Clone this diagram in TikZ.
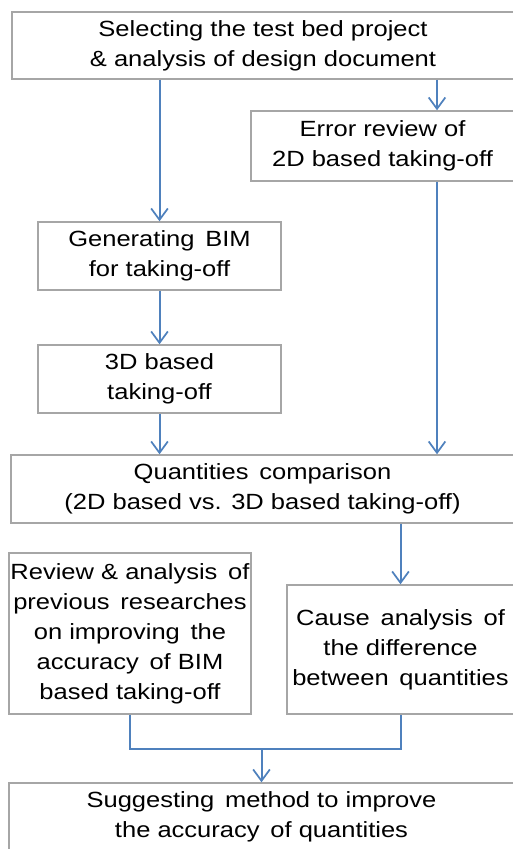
\documentclass[tikz,border=0pt]{standalone}
\usepackage{fontspec}
\setmainfont[FakeStretch=1.16]{Liberation Sans}
\usepackage{xcolor}
\usetikzlibrary{arrows.meta}
\definecolor{flowblue}{RGB}{79,129,189}
\definecolor{boxgray}{RGB}{166,166,166}

\begin{document}
\begin{tikzpicture}[x=0.75pt, y=-0.75pt,
    every node/.append style={font=\fontsize{16.5}{22.5}\selectfont, align=center, inner sep=0pt},
    stagebox/.style={draw=boxgray, line width=1.1pt, fill=white},
    flow/.style={draw=flowblue, line width=1.5pt},
    flowarr/.style={flow, -{Straight Barb[length=8.5pt, width=12.5pt, line width=1.3pt]}}]
        \useasboundingbox (0,0) rectangle (513,849);
        \node [stagebox, minimum width=376.5pt, minimum height=50.25pt] (select) at (263,45.5) {Selecting the test bed project\\\& analysis of design document};
        \node [stagebox, minimum width=197.25pt, minimum height=52.5pt] (error) at (382.5,146) {Error review of\\2D based taking-off};
        \node [stagebox, minimum width=182.25pt, minimum height=51pt] (genbim) at (159.5,256) {Generating\, BIM\\for taking-off};
        \node [stagebox, minimum width=182.25pt, minimum height=51pt] (takeoff) at (159.5,379) {3D based\\taking-off};
        \node [stagebox, minimum width=377.25pt, minimum height=51pt] (compare) at (262.5,489) {Quantities\, comparison\\(2D based vs. 3D based taking-off)};
        \node [stagebox, minimum width=181.5pt, minimum height=120.75pt] (review) at (130,633.5) {Review \& analysis\, of\\previous\, researches\\on improving\, the\\accuracy\, of BIM\\based taking-off};
        \node [stagebox, minimum width=170.25pt, minimum height=96.75pt] (cause) at (400.5,649.5) {Cause\, analysis\, of\\the difference\\between\, quantities};
        \node [stagebox, minimum width=378.75pt, minimum height=51pt] (suggest) at (261.5,817) {Suggesting\, method to improve\\the accuracy\, of quantities};
        \coordinate (rx) at (437,0);
        % arrows
        \draw [flowarr] (select.south -| genbim.north) -- (genbim.north);
        \draw [flowarr] (select.south -| rx) -- (error.north -| rx);
        \draw [flowarr] (error.south -| rx) -- (compare.north -| rx);
        \draw [flowarr] (genbim) -- (takeoff);
        \draw [flowarr] (takeoff) -- (compare.north -| takeoff.south);
        \draw [flowarr] (compare.south -| cause.north) -- (cause.north);
        \draw [flow] (review.south) -- ++(0,34) coordinate (join) -| (cause.south);
        \draw [flowarr] (join -| suggest.north) -- (suggest.north);
\end{tikzpicture}
\end{document}
